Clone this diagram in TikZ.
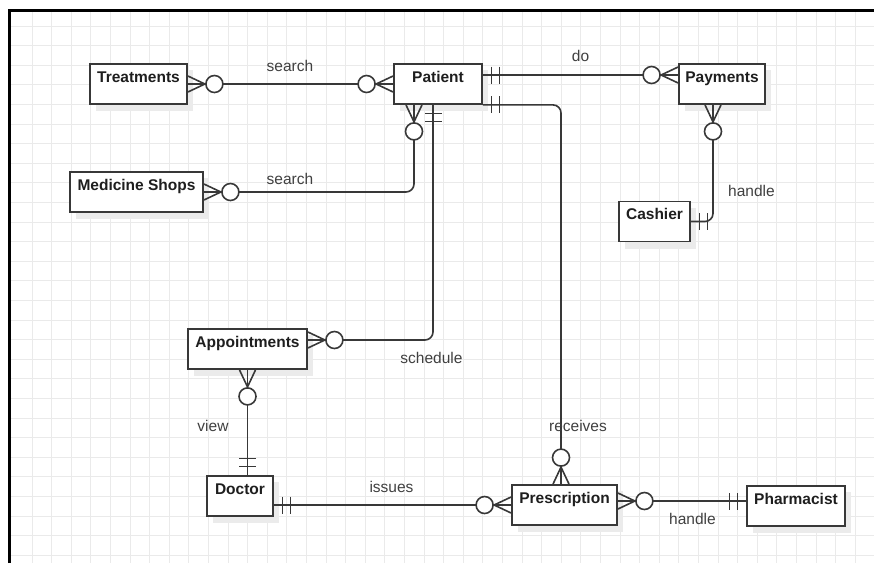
\documentclass[tikz,border=0pt]{standalone}
\usepackage{fontspec}
\setmainfont{Liberation Sans}
\definecolor{ink}{HTML}{383838}
\definecolor{txt}{HTML}{1E1E1E}
\definecolor{lbl}{HTML}{404040}
\definecolor{gridc}{HTML}{EAEAEA}
\definecolor{shadowc}{HTML}{EBEBEB}
\tikzset{
  entity/.style={draw=ink, line width=1.8pt, fill=white, rectangle, inner sep=0pt, minimum height=40pt},
  title/.style={anchor=base, font=\fontsize{15.5}{18}\selectfont\bfseries, text=txt, inner sep=0pt},
  rel/.style={anchor=base, font=\fontsize{15.5}{18}\selectfont, text=lbl, inner sep=0pt},
  conn/.style={draw=ink, line width=1.6pt, rounded corners=8pt},
  tickline/.style={draw=ink, line width=1.6pt},
  zeromany/.pic={
    \draw[tickline] (0,-8) -- (17,0) -- (0,8);
    \draw[tickline] (0,0) -- (17,0);
    \draw[tickline, fill=white] (26.5,0) circle[radius=8.5pt];
  },
  oneone/.pic={
    \draw[tickline] (8.5,-8.5) -- (8.5,8.5) (16.5,-8.5) -- (16.5,8.5);
  }
}
% entity box with a soft drop shadow: name, centre x, centre y, width, height
\newcommand{\entity}[5]{%
  \fill[shadowc] (#2-#4/2+6,#3-#5/2+6) rectangle (#2+#4/2+6,#3+#5/2+7);
  \node[entity, minimum width=#4pt] (#1) at (#2,#3) {};
}
\begin{document}
\begin{tikzpicture}[x=1pt, y=-1pt]
\useasboundingbox (0,0) rectangle (874,563);
\fill[white] (0,0) rectangle (874,563);
% background grid
\begin{scope}
  \clip (10,11) rectangle (874,563);
  \foreach \i in {0,...,43} \draw[gridc, line width=1pt] (32+19.6*\i,0) -- (32+19.6*\i,563);
  \foreach \j in {0,...,28} \draw[gridc, line width=1pt] (0,26+19.6*\j) -- (874,26+19.6*\j);
\end{scope}
% frame edges
\draw[black, line width=3pt] (9.8,563) -- (9.8,10.5) -- (874,10.5);

% entities
\entity{treat}{138.5}{84}{97}{40}
\entity{patient}{438}{84}{88}{40}
\entity{payments}{722}{84}{86}{40}
\entity{cashier}{654.5}{221.5}{71}{40}
\entity{medshops}{136.5}{192}{133}{40}
\entity{appoint}{247.5}{349}{119}{40}
\entity{doctor}{240}{496}{66}{40}
\entity{prescr}{564.5}{505}{105}{40}
\entity{pharm}{796}{506}{98}{40}

\foreach \n/\t in {treat/Treatments, patient/Patient, payments/Payments, cashier/Cashier,
                   medshops/Medicine Shops, appoint/Appointments, doctor/Doctor,
                   prescr/Prescription, pharm/Pharmacist}
  \node[title] (\n-t) at ([yshift=-19.3pt]\n.north) {\t};

% connector end points
\coordinate (pt-s1) at ([xshift=-24pt]patient.south);
\coordinate (pt-s2) at ([xshift=-5pt]patient.south);
\coordinate (ap-e) at ([yshift=9pt]appoint.east);
\coordinate (pt-e) at ([yshift=9pt]patient.east);
\coordinate (pay-w) at ([yshift=9pt]payments.west);
\coordinate (pr-n) at ([xshift=-3.5pt]prescr.north);
\coordinate (pay-s) at ([xshift=-9pt]payments.south);
\coordinate (doc-n) at (appoint.south |- doctor.north);
\coordinate (doc-e) at ([yshift=-9pt]doctor.east);
\coordinate (pr-w) at (doc-e -| prescr.west);
\coordinate (pr-e) at ([yshift=4pt]prescr.east);
\coordinate (ph-w) at (pr-e -| pharm.west);

% relationships
\draw[conn] (treat.east) -- (patient.west);
\draw[conn] (medshops.east) -| (pt-s1);
\draw[conn] (pt-s2) |- (ap-e);
\draw[conn] (pt-e) -- (pay-w);
\draw[conn] (patient.south east) -| (pr-n);
\draw[conn] (pay-s) |- (cashier.east);
\draw[conn] (appoint.south) -- (doc-n);
\draw[conn] (doc-e) -- (pr-w);
\draw[conn] (pr-e) -- (ph-w);

% cardinality marks
\pic[rotate=0] at (treat.east) {zeromany};
\pic[rotate=180] at (patient.west) {zeromany};
\pic[rotate=0] at (medshops.east) {zeromany};
\pic[rotate=-90] at (pt-s1) {zeromany};
\pic[rotate=-90] at (pt-s2) {oneone};
\pic[rotate=0] at (ap-e) {zeromany};
\pic[rotate=0] at (pt-e) {oneone};
\pic[rotate=180] at (pay-w) {zeromany};
\pic[rotate=0] at (patient.south east) {oneone};
\pic[rotate=90] at (pr-n) {zeromany};
\pic[rotate=-90] at (pay-s) {zeromany};
\pic[rotate=0] at (cashier.east) {oneone};
\pic[rotate=-90] at (appoint.south) {zeromany};
\pic[rotate=90] at (doc-n) {oneone};
\pic[rotate=0] at (doc-e) {oneone};
\pic[rotate=180] at (pr-w) {zeromany};
\pic[rotate=0] at (pr-e) {zeromany};
\pic[rotate=180] at (ph-w) {oneone};

% relationship names
\node[rel] (l-search1) at (290,71) {search};
\node[rel] (l-search2) at (290,184) {search};
\node[rel] (l-do) at (580.5,61.5) {do};
\node[rel] (l-handle1) at (751.5,196) {handle};
\node[rel] (l-schedule) at (431.5,363) {schedule};
\node[rel] (l-view) at (213,431) {view};
\node[rel] (l-issues) at (391.5,492) {issues};
\node[rel] (l-receives) at (578,431) {receives};
\node[rel] (l-handle2) at (692.5,524) {handle};
\end{tikzpicture}
\end{document}
